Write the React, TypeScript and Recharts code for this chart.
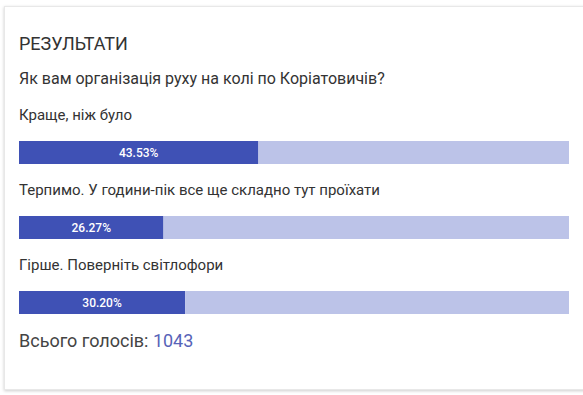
import React from "react";
import { BarChart, Bar, XAxis, YAxis, LabelList } from "recharts";

const title = "РЕЗУЛЬТАТИ";
const question = "Як вам організація руху на колі по Коріатовичів?";
const options = [
  "Краще, ніж було",
  "Терпимо. У години-пік все ще складно тут проїхати",
  "Гірше. Поверніть світлофори",
];
const votes = [454, 274, 315];
const totalLabel = "Всього голосів:";

const total = votes.reduce((a, b) => a + b, 0);
const data = options.map((name, i) => {
  const pct = (votes[i] / total) * 100;
  return { name, pct, rest: 100 - pct };
});

const FONT = "Roboto, 'Noto Sans', sans-serif";

const OptionLabel = (props: any) => {
  const { x, y, index } = props;
  return (
    <text x={x} y={y - 21} fill="#333" fontSize={15} fontFamily={FONT}>
      {options[index]}
    </text>
  );
};

const PctLabel = (props: any) => {
  const { x, y, width, height, value } = props;
  return (
    <text
      x={x + width / 2}
      y={y + height / 2 + 4}
      fill="#fff"
      fontSize={12}
      fontWeight={500}
      fontFamily={FONT}
      textAnchor="middle"
    >
      {value.toFixed(2)}%
    </text>
  );
};

export default function App() {
  return (
    <div
      style={{
        position: "absolute",
        left: 0,
        top: 0,
        width: 583,
        height: 395,
        background: "#fff",
        overflow: "hidden",
        fontFamily: FONT,
      }}
    >
      <div
        style={{
          position: "absolute",
          left: 4,
          top: 6,
          width: 600,
          height: 382,
          background: "#fff",
          border: "1px solid #e8e8e8",
          boxShadow: "0 1px 3px rgba(0,0,0,0.2)",
        }}
      />
      <div
        style={{
          position: "absolute",
          left: 19,
          top: 35,
          fontSize: 18,
          lineHeight: "18px",
          color: "#333",
          whiteSpace: "nowrap",
        }}
      >
        {title}
      </div>
      <div
        style={{
          position: "absolute",
          left: 19,
          top: 71,
          fontSize: 16,
          lineHeight: "16px",
          color: "#333",
          whiteSpace: "nowrap",
        }}
      >
        {question}
      </div>
      <div style={{ position: "absolute", left: 0, top: 85 }}>
        <BarChart
          width={583}
          height={255}
          data={data}
          layout="vertical"
          margin={{ top: 30, right: 14, bottom: 0, left: 19 }}
          barCategoryGap={0}
        >
          <XAxis type="number" domain={[0, 100]} hide />
          <YAxis type="category" dataKey="name" hide />
          <Bar dataKey="pct" stackId="a" fill="#3F51B5" barSize={23} isAnimationActive={false}>
            <LabelList dataKey="name" content={<OptionLabel />} />
            <LabelList dataKey="pct" content={<PctLabel />} />
          </Bar>
          <Bar dataKey="rest" stackId="a" fill="#BCC3E8" barSize={23} isAnimationActive={false} />
        </BarChart>
      </div>
      <div
        style={{
          position: "absolute",
          left: 19,
          top: 332,
          fontSize: 18,
          lineHeight: "18px",
          color: "#444",
          whiteSpace: "nowrap",
        }}
      >
        {totalLabel} <span style={{ color: "#5763B8" }}>{total}</span>
      </div>
    </div>
  );
}
